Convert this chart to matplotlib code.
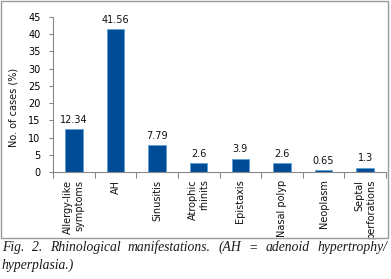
import matplotlib
matplotlib.use("Agg")
import matplotlib.pyplot as plt
from matplotlib.patches import Rectangle

categories = ["Allergy-like\nsymptoms", "AH", "Sinusitis", "Atrophic\nrhinits",
              "Epistaxis", "Nasal polyp", "Neoplasm", "Septal\nperforations"]
values = [12.34, 41.56, 7.79, 2.6, 3.9, 2.6, 0.65, 1.3]
value_labels = ["12.34", "41.56", "7.79", "2.6", "3.9", "2.6", "0.65", "1.3"]
yticks = [0, 5, 10, 15, 20, 25, 30, 35, 40, 45]

W, H = 391, 279
fig = plt.figure(figsize=(W / 100, H / 100), dpi=100)
fig.patch.set_facecolor("white")

# frame around the chart
fig.patches.append(Rectangle((1 / W, 1 - 238 / H), 387 / W, 237 / H,
                             transform=fig.transFigure, fill=False,
                             edgecolor="#9a9a9a", linewidth=1.0))

ax = fig.add_axes([53 / W, 1 - 172 / H, (386 - 53) / W, (172 - 17) / H])
x = list(range(len(categories)))
ax.bar(x, values, width=0.42, color="#004C97", edgecolor="#5f9fd6", linewidth=0.6)
for xi, v, lab in zip(x, values, value_labels):
    ax.text(xi, v + 1.2, lab, ha="center", va="bottom", fontsize=7, color="#111")

ax.set_xlim(-0.5, len(categories) - 0.5)
ax.set_ylim(0, 45)
ax.set_yticks(yticks)
ax.set_yticklabels([str(t) for t in yticks], fontsize=7)
ax.set_xticks([i - 0.5 for i in range(len(categories) + 1)])
ax.set_xticklabels([])
ax.tick_params(axis="x", direction="out", length=4, color="#888")
ax.tick_params(axis="y", direction="out", length=3, color="#888", pad=6)
for i, c in enumerate(categories):
    ax.text(i, -2.2, c, rotation=90, ha="center", va="top", fontsize=7,
            multialignment="right", color="#111")
for s in ["top", "right"]:
    ax.spines[s].set_visible(False)
for s in ["left", "bottom"]:
    ax.spines[s].set_color("#888")
    ax.spines[s].set_linewidth(0.8)
fig.text(14 / W, 1 - 107 / H, "No. of cases (%)", rotation=90, ha="center",
         va="center", fontsize=7, color="#111")

# caption (justified first line)
cap_font = dict(family="Liberation Serif", style="italic", fontsize=9.8, color="#1a1a1a")
line1 = ["Fig.", "2.", "Rhinological", "manifestations.", "(AH", "=", "adenoid",
         "hypertrophy/"]
x0, x1 = 2, 387
renderer = fig.canvas.get_renderer()
texts = [fig.text(0, 1 - 251 / H, w, ha="left", va="baseline", **cap_font) for w in line1]
widths = [t.get_window_extent(renderer).width for t in texts]
gap = (x1 - x0 - sum(widths)) / (len(line1) - 1)
pos = x0
for t, wd in zip(texts, widths):
    t.set_x(pos / W)
    pos += wd + gap
fig.text(x0 / W, 1 - 269 / H, "hyperplasia.)", ha="left", va="baseline", **cap_font)

fig.savefig("out.png", dpi=100)
